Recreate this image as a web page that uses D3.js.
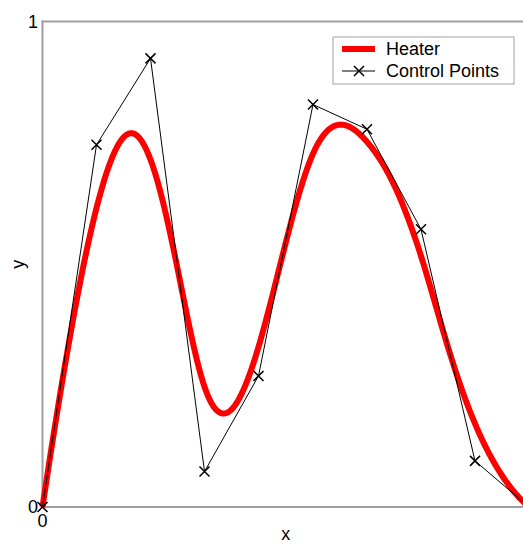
<!DOCTYPE html>
<meta charset="utf-8">
<style>
body { margin: 0; background: #fff; }
svg { display: block; font-family: "Liberation Sans", Arial, sans-serif; }
.frame { stroke: #a0a0a0; stroke-width: 2; fill: none; }
.tick { font-size: 18px; fill: #000; }
.heater { fill: none; stroke: #ff0000; stroke-width: 6; stroke-linejoin: round; }
.ctrl { fill: none; stroke: #000; stroke-width: 1; }
.mark { stroke: #000; stroke-width: 1.5; }
</style>
<body>
<svg width="523" height="545"></svg>
<script src="https://d3js.org/d3.v7.min.js"></script>
<script>

// control points of the heater spline
var ctrlX = [0, 0.111, 0.222, 0.333, 0.444, 0.556, 0.667, 0.778, 0.889, 1];
var ctrlY = [0, 0.746, 0.924, 0.073, 0.270, 0.829, 0.778, 0.572, 0.095, 0];
var xTicks = [0];
var yTicks = [0, 1];
var legendLabels = ["Heater", "Control Points"];

var svg = d3.select("svg");

var x = d3.scaleLinear().domain([0, 1]).range([42.5, 529]),
    y = d3.scaleLinear().domain([0, 1]).range([507, 21.5]);

var pts = ctrlX.map(function(v, i) { return [v, ctrlY[i]]; });

// clamped cubic B-spline (de Boor)
function bspline(p, deg, n) {
  var m = p.length, spans = m - deg, knots = [];
  for (var i = 0; i <= deg; i++) knots.push(0);
  for (var i = 1; i < spans; i++) knots.push(i);
  for (var i = 0; i <= deg; i++) knots.push(spans);
  var out = [];
  for (var s = 0; s <= n; s++) {
    var t = spans * s / n;
    var k = Math.min(Math.floor(t), spans - 1) + deg;
    var d = [];
    for (var j = 0; j <= deg; j++) d.push(p[k - deg + j].slice());
    for (var r = 1; r <= deg; r++) {
      for (var j = deg; j >= r; j--) {
        var ii = k - deg + j;
        var a = (t - knots[ii]) / (knots[ii + deg + 1 - r] - knots[ii]);
        d[j] = [(1 - a) * d[j - 1][0] + a * d[j][0], (1 - a) * d[j - 1][1] + a * d[j][1]];
      }
    }
    out.push(d[deg]);
  }
  return out;
}

var curve = bspline(pts, 3, 400);

var line = d3.line()
    .x(function(d) { return x(d[0]); })
    .y(function(d) { return y(d[1]); });

// frame
svg.append("line").attr("class", "frame")
    .attr("x1", x(0)).attr("x2", x(0)).attr("y1", y(1) - 1).attr("y2", y(0) + 1);
svg.append("line").attr("class", "frame")
    .attr("x1", x(0) - 1).attr("x2", 523).attr("y1", y(1)).attr("y2", y(1));
svg.append("line").attr("class", "frame")
    .attr("x1", x(0) - 1).attr("x2", 523).attr("y1", y(0)).attr("y2", y(0));
svg.append("line").attr("class", "frame")
    .attr("x1", x(1)).attr("x2", x(1)).attr("y1", y(1)).attr("y2", y(0));

// tick labels
svg.selectAll(".ytick").data(yTicks).enter().append("text")
    .attr("class", "tick")
    .attr("x", 38)
    .attr("y", function(d) { return y(d) + 6; })
    .attr("text-anchor", "end")
    .text(function(d) { return d; });

svg.selectAll(".xtick").data(xTicks).enter().append("text")
    .attr("class", "tick")
    .attr("x", function(d) { return x(d); })
    .attr("y", 527)
    .attr("text-anchor", "middle")
    .text(function(d) { return d; });

svg.append("text").attr("class", "tick")
    .attr("x", (x(0) + x(1)) / 2).attr("y", 540)
    .attr("text-anchor", "middle").text("x");

svg.append("text").attr("class", "tick")
    .attr("transform", "translate(24," + (y(0) + y(1)) / 2 + ") rotate(-90)")
    .attr("text-anchor", "middle").text("y");

// curves
svg.append("path").attr("class", "heater").attr("d", line(curve));
svg.append("path").attr("class", "ctrl").attr("d", line(pts));

function cross(g, cx, cy, r) {
  g.append("path").attr("class", "mark")
      .attr("d", "M" + (cx - r) + "," + (cy - r) + "L" + (cx + r) + "," + (cy + r) +
                 "M" + (cx - r) + "," + (cy + r) + "L" + (cx + r) + "," + (cy - r));
}
var marks = svg.append("g");
pts.forEach(function(d) { cross(marks, x(d[0]), y(d[1]), 5); });

// legend
var lg = svg.append("g");
lg.append("rect")
    .attr("x", 333).attr("y", 37).attr("width", 181).attr("height", 47)
    .attr("fill", "#fff").attr("stroke", "#a0a0a0").attr("stroke-width", 1);
lg.append("line").attr("x1", 342).attr("x2", 375).attr("y1", 49).attr("y2", 49)
    .attr("stroke", "#ff0000").attr("stroke-width", 6);
lg.append("line").attr("x1", 342).attr("x2", 375).attr("y1", 71).attr("y2", 71)
    .attr("stroke", "#000").attr("stroke-width", 1);
cross(lg, 359, 71, 5);
lg.selectAll(".lt").data(legendLabels).enter().append("text")
    .attr("class", "tick")
    .attr("x", 386)
    .attr("y", function(d, i) { return 55 + i * 22; })
    .text(function(d) { return d; });

</script>
</body>
